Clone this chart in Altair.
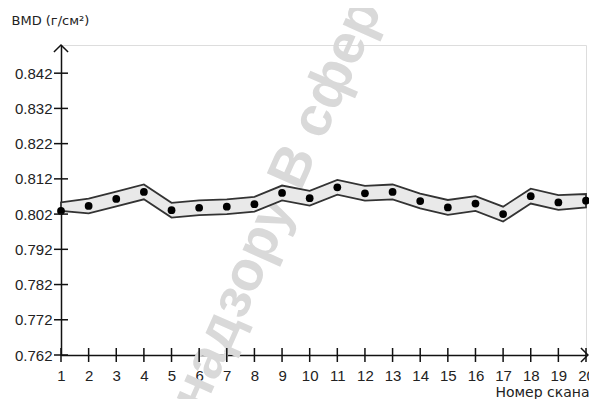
import altair as alt
import pandas as pd

scan = list(range(1, 21))
bmd = [0.8029, 0.8043, 0.8063, 0.8083, 0.8031, 0.8038, 0.8041, 0.8048, 0.8080, 0.8065,
       0.8096, 0.8079, 0.8083, 0.8057, 0.8039, 0.8050, 0.8020, 0.8071, 0.8053, 0.8058]
upper = [0.8053, 0.8064, 0.8084, 0.8104, 0.8052, 0.8059, 0.8062, 0.8069, 0.8101, 0.8086,
         0.8117, 0.8100, 0.8104, 0.8078, 0.8060, 0.8071, 0.8041, 0.8092, 0.8074, 0.8077]
lower = [0.8029, 0.8022, 0.8042, 0.8062, 0.8010, 0.8017, 0.8020, 0.8027, 0.8059, 0.8044,
         0.8075, 0.8058, 0.8062, 0.8036, 0.8018, 0.8029, 0.7999, 0.8050, 0.8032, 0.8039]
y_ticks = [0.762, 0.772, 0.782, 0.792, 0.802, 0.812, 0.822, 0.832, 0.842]
x_ticks = list(range(1, 21))
y_title = "BMD (г/см²)"
x_title = "Номер скана"
watermark = "надзору В сфере"

df = pd.DataFrame({"scan": scan, "bmd": bmd, "upper": upper, "lower": lower})
yt = pd.DataFrame({"t": y_ticks})
xt = pd.DataFrame({"t": x_ticks})

W, H = 525, 310
xs = alt.Scale(domain=[1, 20], nice=False, zero=False)
ys = alt.Scale(domain=[0.762, 0.850], nice=False, zero=False)
FONT = "Liberation Sans"
TFONT = "DejaVu Sans"

xaxis = alt.Axis(values=x_ticks, format="d", title=x_title, ticks=False, grid=False,
                 domainColor="#111", domainWidth=1.5, labelFontSize=15, labelFont=FONT,
                 labelColor="#222", labelPadding=13, labelFlush=False, labelOverlap=False,
                 labelBound=False,
                 titleFont=TFONT, titleFontSize=14, titleFontWeight="normal", titleColor="#222",
                 titleAlign="right", titleAnchor="end", titleX=528, titleY=41,
                 titleBaseline="alphabetic")
yaxis = alt.Axis(values=y_ticks, format=".3f", title=y_title, ticks=False, grid=False,
                 domainColor="#111", domainWidth=1.5, labelFontSize=15, labelFont=FONT,
                 labelColor="#222", labelPadding=9, labelOverlap=False,
                 titleFont=TFONT, titleFontSize=13, titleFontWeight="normal", titleColor="#222",
                 titleAngle=0, titleAlign="left", titleX=-50, titleY=-25,
                 titleBaseline="middle")

wm = alt.Chart(pd.DataFrame({"w": [watermark]})).mark_text(
    angle=294, fontSize=56, color="#d9d9d9", fontWeight="bold", font=FONT,
    align="center", baseline="middle"
).encode(text="w:N", x=alt.value(222), y=alt.value(145))

band = alt.Chart(df).mark_area(fill="#e9e9e9", stroke="#333", strokeWidth=1.8).encode(
    x=alt.X("scan:Q", scale=xs, axis=xaxis),
    y=alt.Y("upper:Q", scale=ys, axis=yaxis),
    y2="lower:Q",
)
pts = alt.Chart(df).mark_circle(size=60, color="#000", opacity=1).encode(
    x=alt.X("scan:Q", scale=xs, axis=xaxis), y=alt.Y("bmd:Q", scale=ys, axis=yaxis)
)
ytk = alt.Chart(yt).mark_rule(color="#111", strokeWidth=1.5).encode(
    y=alt.Y("t:Q", scale=ys, axis=yaxis), x=alt.value(-7), x2=alt.value(7)
)
xtk = alt.Chart(xt).mark_rule(color="#111", strokeWidth=1.5).encode(
    x=alt.X("t:Q", scale=xs, axis=xaxis), y=alt.value(H - 7), y2=alt.value(H + 7)
)
yarrow = alt.Chart(pd.DataFrame({"a": [0]})).mark_point(
    shape="M -1 1 L 0 0 L 1 1", filled=False, stroke="#111", strokeWidth=1.5, size=200, opacity=1
).encode(x=alt.value(0), y=alt.value(0))
xarrow = alt.Chart(pd.DataFrame({"a": [0]})).mark_point(
    shape="M -1 -1 L 0 0 L -1 1", filled=False, stroke="#111", strokeWidth=1.5, size=200, opacity=1
).encode(x=alt.value(W + 2), y=alt.value(H))

chart = alt.layer(wm, band, pts, ytk, xtk, yarrow, xarrow).properties(
    width=W, height=H,
    autosize=alt.AutoSizeParams(type="none"),
    padding={"left": 53, "top": 37, "right": 3, "bottom": 44},
).configure_view(stroke=None).configure_axis(labelOverlap=False).configure(background="white")

chart.save("out.html", embed_options={"renderer": "svg", "actions": False})
